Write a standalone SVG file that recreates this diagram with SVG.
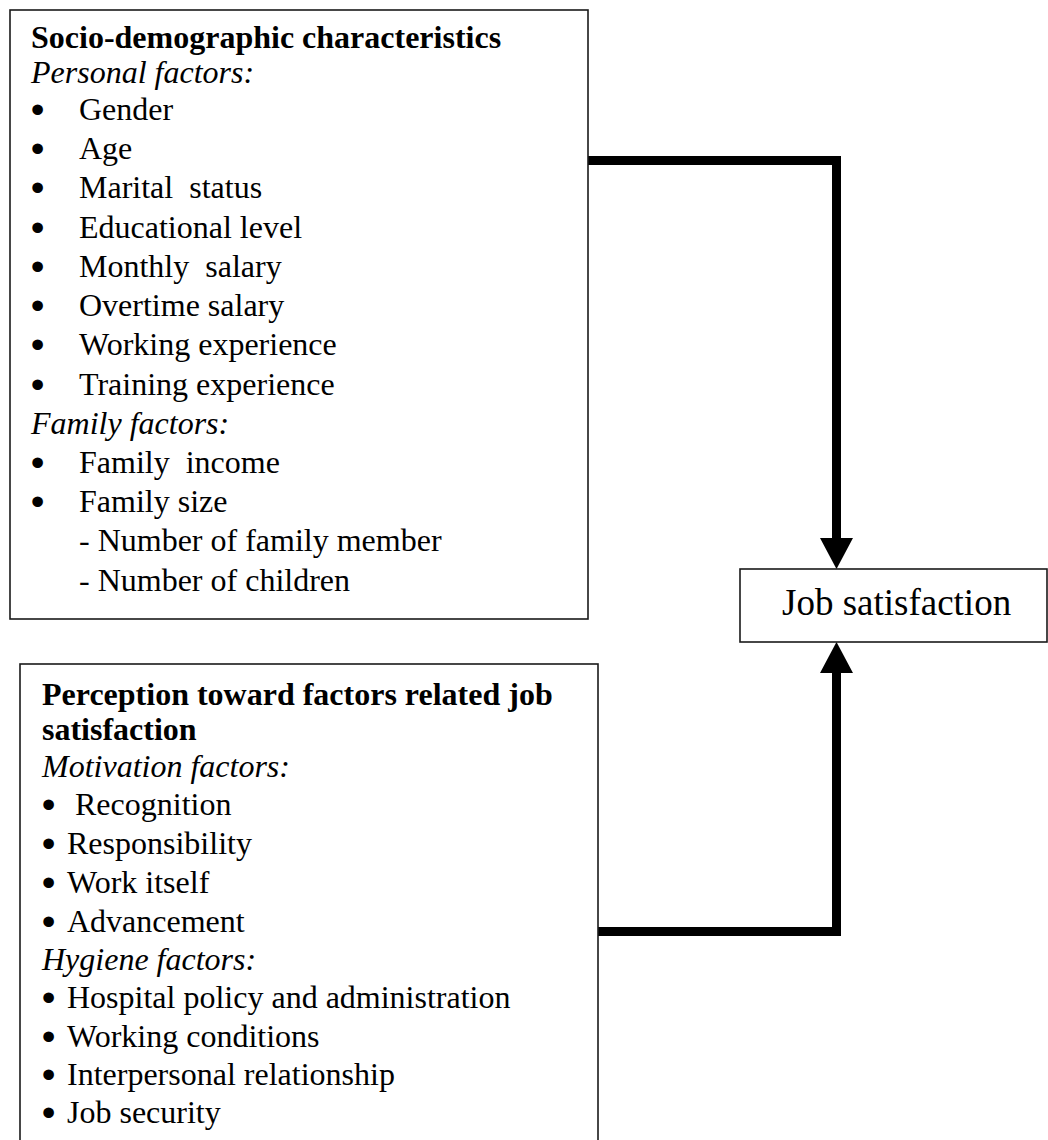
<svg xmlns="http://www.w3.org/2000/svg" width="1048" height="1140" viewBox="0 0 1048 1140" xml:space="preserve">
<style>
.box{fill:#fff;stroke:#1a1a1a;stroke-width:1.6}
text{font-family:"Liberation Serif","Times New Roman",serif;font-size:32px;fill:#000;white-space:pre}
.b{font-weight:bold}
.i{font-style:italic}
.bl{stroke:#000;stroke-width:3;stroke-linejoin:round}
.js{font-size:37px}
.conn{fill:none;stroke:#000;stroke-width:9;stroke-linejoin:miter}
.head{fill:#000}
</style>
<rect width="1048" height="1140" fill="#fff"/>
<g id="connectors">
  <path class="conn" d="M586,160.5 H836.5 V540"/>
  <polygon class="head" points="820,538 853,538 836.5,569"/>
  <path class="conn" d="M598,931.5 H836.5 V671"/>
  <polygon class="head" points="820,673 853,673 836.5,642"/>
</g>
<g id="socio-demographic">
  <rect class="box" x="10" y="10" width="578" height="609"/>
  <text class="b" x="31" y="48">Socio-demographic characteristics</text>
  <text class="i" x="31" y="83">Personal factors:</text>
  <text class="bl" x="32" y="121">•</text><text x="79" y="120">Gender</text>
  <text class="bl" x="32" y="160">•</text><text x="79" y="159">Age</text>
  <text class="bl" x="32" y="199">•</text><text x="79" y="198">Marital  status</text>
  <text class="bl" x="32" y="239">•</text><text x="79" y="238">Educational level</text>
  <text class="bl" x="32" y="278">•</text><text x="79" y="277">Monthly  salary</text>
  <text class="bl" x="32" y="317">•</text><text x="79" y="316">Overtime salary</text>
  <text class="bl" x="32" y="356">•</text><text x="79" y="355">Working experience</text>
  <text class="bl" x="32" y="396">•</text><text x="79" y="395">Training experience</text>
  <text class="i" x="31" y="434">Family factors:</text>
  <text class="bl" x="32" y="474">•</text><text x="79" y="473">Family  income</text>
  <text class="bl" x="32" y="513">•</text><text x="79" y="512">Family size</text>
  <text x="79" y="551">- Number of family member</text>
  <text x="79" y="591">- Number of children</text>
</g>
<g id="job-satisfaction">
  <rect class="box" x="740" y="569" width="307" height="73"/>
  <text class="js" x="782" y="615">Job satisfaction</text>
</g>
<g id="perception">
  <rect class="box" x="20" y="664" width="578" height="500"/>
  <text class="b" x="42" y="705">Perception toward factors related job</text>
  <text class="b" x="42" y="740">satisfaction</text>
  <text class="i" x="42" y="777">Motivation factors:</text>
  <text class="bl" x="43" y="816">•</text><text x="75" y="815">Recognition</text>
  <text class="bl" x="43" y="855">•</text><text x="67" y="854">Responsibility</text>
  <text class="bl" x="43" y="894">•</text><text x="67" y="893">Work itself</text>
  <text class="bl" x="43" y="933">•</text><text x="67" y="932">Advancement</text>
  <text class="i" x="42" y="970">Hygiene factors:</text>
  <text class="bl" x="43" y="1009">•</text><text x="67" y="1008">Hospital policy and administration</text>
  <text class="bl" x="43" y="1048">•</text><text x="67" y="1047">Working conditions</text>
  <text class="bl" x="43" y="1086">•</text><text x="67" y="1085">Interpersonal relationship</text>
  <text class="bl" x="43" y="1124">•</text><text x="67" y="1123">Job security</text>
</g>
</svg>
